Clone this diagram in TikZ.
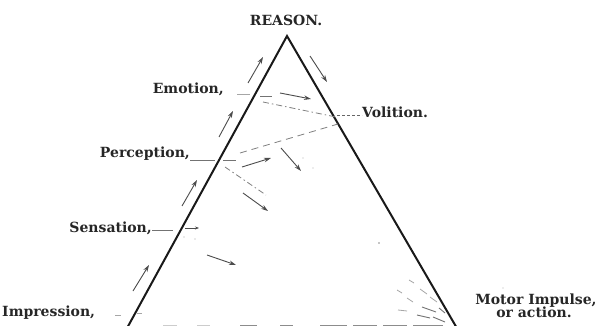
\documentclass[tikz,border=0pt]{standalone}
\usepackage{fontspec}
\setmainfont{DejaVu Serif}
\usetikzlibrary{arrows.meta}
\begin{document}
\begin{tikzpicture}[x=1pt,y=-1pt,
  edge/.style={line width=2pt, draw=black!90},
  arr/.style={line width=0.9pt, draw=black!70, -{Stealth[length=7pt,width=4.5pt]}},
  lbl/.style={font=\fontsize{14}{13}\selectfont\bfseries, inner sep=0pt, text=black!85},
  dd/.style={line width=0.8pt, draw=black!50, dash pattern=on 6pt off 3pt on 1.5pt off 3pt},
  ds/.style={line width=0.8pt, draw=black!50, dash pattern=on 7pt off 5pt},
  tick/.style={line width=0.9pt, draw=black!55},
  faint/.style={line width=0.8pt, draw=black!35},
  base/.style={line width=3pt, draw=black!45}]
\useasboundingbox (0,0) rectangle (600,326);
\clip (0,0) rectangle (600,326);
\fill[white] (0,0) rectangle (600,326);

% triangle
\coordinate (apex) at (287,36);
\coordinate (bl) at (126,330);
\coordinate (br) at (458,330);
\draw[edge, line join=miter] (bl) -- (apex) -- (br);

% labels
\node[lbl, anchor=base] (reason) at (286,26) {REASON.};
\node[lbl, anchor=base east] (emotion) at (224,94) {Emotion,};
\node[lbl, anchor=base west] (volition) at (362,118) {Volition.};
\node[lbl, anchor=base east] (perception) at (190,158) {Perception,};
\node[lbl, anchor=base east] (sensation) at (152,233) {Sensation,};
\node[lbl, anchor=base west] (impression) at (2,316) {Impression,};
\node[lbl, anchor=base] (motor) at (536,304) {Motor Impulse,};
\node[lbl, anchor=base] (action) at (534,317) {or action.};

% upward arrows outside the left edge
\coordinate (l1a) at (133,291); \coordinate (l1b) at (149,265);
\coordinate (l2a) at (182,206); \coordinate (l2b) at (197,180);
\coordinate (l3a) at (219,137); \coordinate (l3b) at (233,111);
\coordinate (l4a) at (248,83);  \coordinate (l4b) at (263,57);
\draw[arr] (l1a) -- (l1b);
\draw[arr] (l2a) -- (l2b);
\draw[arr] (l3a) -- (l3b);
\draw[arr] (l4a) -- (l4b);
% downward arrow outside the right edge
\coordinate (r1a) at (310,56); \coordinate (r1b) at (327,82);
\draw[arr] (r1a) -- (r1b);

% Emotion level
\coordinate (e1) at (237,94); \coordinate (e2) at (250,94);
\coordinate (e3) at (260,96); \coordinate (e4) at (272,96);
\coordinate (e5) at (280,93); \coordinate (e6) at (311,99);
\coordinate (e7) at (263,102); \coordinate (e8) at (336,117);
\draw[faint] (e1) -- (e2);
\draw[tick] (e3) -- (e4);
\draw[arr] (e5) -- (e6);
\draw[dd] (e7) -- (e8);

% Volition
\coordinate (v1) at (337,115);
\draw[line width=0.8pt, draw=black!60, dash pattern=on 3pt off 2pt] (v1) -- (volition.west |- v1);

% Perception level
\coordinate (p0) at (215,160);
\draw[tick] (perception.east |- p0) -- (p0);
\coordinate (p1) at (223,160); \coordinate (p2) at (236,160);
\draw[tick] (p1) -- (p2);
\coordinate (p3) at (240,153); \coordinate (p4) at (338,124);
\draw[ds] (p3) -- (p4);
\coordinate (p5) at (242,167); \coordinate (p6) at (271,158);
\draw[arr] (p5) -- (p6);
\coordinate (p7) at (281,148); \coordinate (p8) at (301,171);
\draw[arr] (p7) -- (p8);
\coordinate (p9) at (225,167); \coordinate (p10) at (266,195);
\draw[dd] (p9) -- (p10);
\coordinate (p11) at (243,193); \coordinate (p12) at (268,211);
\draw[arr] (p11) -- (p12);
\fill[black!30] (303,158) circle (0.7) (313,168) circle (0.7);

% Sensation level
\coordinate (s0) at (173,230);
\draw[tick] (sensation.east |- s0) -- (s0);
\coordinate (s1) at (185,228); \coordinate (s2) at (199,228);
\draw[line width=0.9pt, draw=black!70, -{Stealth[length=4pt,width=3pt]}] (s1) -- (s2);
\fill[black!35] (184,237) circle (0.7) (195,239) circle (0.7);
\coordinate (s3) at (207,255); \coordinate (s4) at (236,265);
\draw[arr] (s3) -- (s4);

% Impression level
\draw[faint] (115,315) -- (121,315);
\draw[faint] (137,313) -- (142,313);

% scattered marks
\fill[black!45] (379,243) circle (0.8);
\fill[black!30] (503,288) circle (0.7);

% marks converging to the lower right corner
\draw[faint] (409,280) -- (414,283);
\draw[faint] (420,289) -- (427,294);
\draw[faint] (397,290) -- (402,293);
\draw[faint] (430,297) -- (437,302);
\draw[faint] (407,298) -- (413,302);
\draw[tick]  (422,307) -- (436,312);
\draw[tick]  (439,308) -- (445,313);
\draw[faint] (398,310) -- (407,311);
\draw[tick]  (417,315) -- (430,318);
\draw[tick]  (433,317) -- (445,322);

% base marks at the lower edge
\draw[base, draw=black!20] (163,326) -- (177,326);
\draw[base, draw=black!20] (197,326) -- (210,326);
\draw[base] (240,326) -- (257,326);
\draw[base] (280,326) -- (293,326);
\draw[base] (320,326) -- (347,326);
\draw[base] (353,326) -- (377,326);
\draw[base] (383,326) -- (407,326);
\draw[base] (413,326) -- (443,326);
\end{tikzpicture}
\end{document}
